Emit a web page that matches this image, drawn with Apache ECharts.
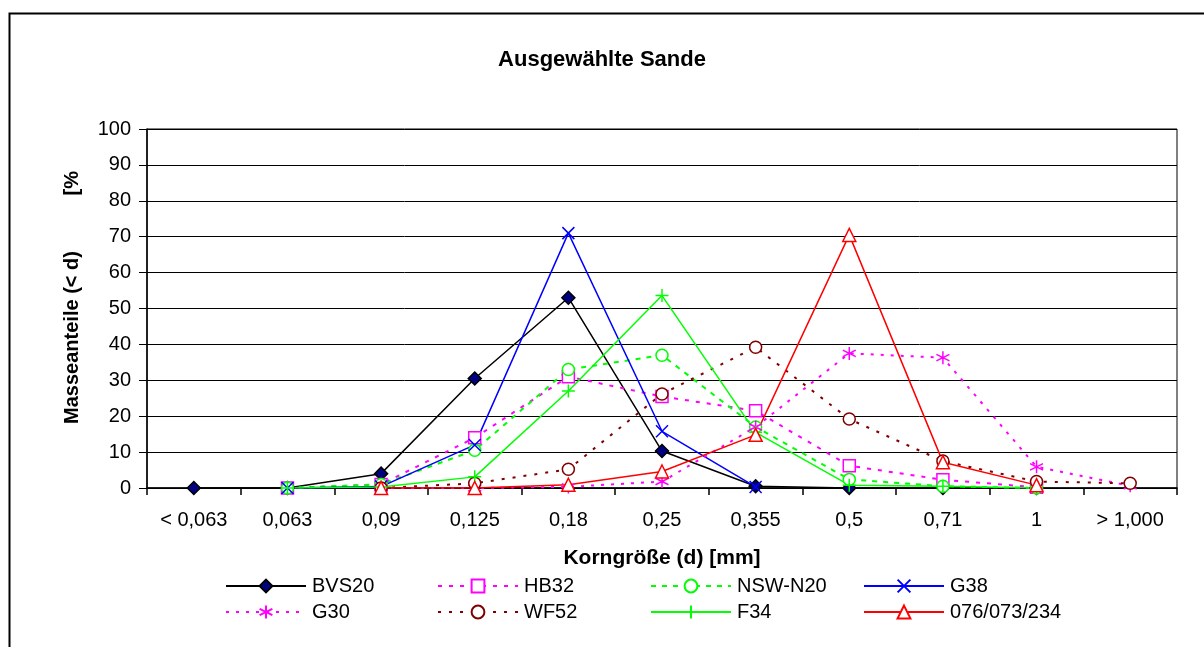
<!DOCTYPE html>
<html>
<head>
<meta charset="utf-8">
<script src="https://cdn.jsdelivr.net/npm/echarts@6/dist/echarts.min.js"></script>
<style>html,body{margin:0;padding:0;background:#fff;}#c{width:1204px;height:647px;}</style>
</head>
<body>
<div id="c"></div>
<script>
var categories = ['< 0,063','0,063','0,09','0,125','0,18','0,25','0,355','0,5','0,71','1','> 1,000'];
var yTicks = [0,10,20,30,40,50,60,70,80,90,100];
var BVS20 = [0, 0, 4, 30.5, 53, 10.3, 0.5, 0, 0, 0, null];
var HB32 = [null, 0, 1, 14, 31, 25.5, 21.5, 6.2, 2.3, 0.2, null];
var NSW_N20 = [null, 0, 1, 10.5, 33, 37, 17, 2.4, 0.5, 0, null];
var G38 = [null, 0, 0.4, 12, 71, 15.8, 0.3, null, null, null, null];
var G30 = [null, null, 0, 0, 0.3, 1.8, 17, 37.5, 36.3, 5.9, 0.6];
var WF52 = [null, null, 0, 1.3, 5.2, 26.2, 39.2, 19.2, 7.5, 1.8, 1.3];
var F34 = [null, 0, 0.3, 3.1, 27, 53.6, 15.5, 0.8, 0.5, 0, null];
var S076 = [null, null, 0, 0, 0.9, 4.6, 14.8, 70.5, 7.2, 0.8, null];

var FONT = 'Liberation Sans';
var SYM_X = 'path://M0,0L10,10M10,0L0,10';
var SYM_AST = 'path://M5,0L5,10M0,2.5L10,7.5M10,2.5L0,7.5';
var SYM_PLUS = 'path://M5,0L5,10M0,5L10,5';

function mk(name, data, color, lineType, width, symbol, size, fill, border) {
  return {
    name: name, type: 'line', data: data, connectNulls: false,
    symbol: symbol, symbolSize: size, symbolKeepAspect: true,
    lineStyle: {color: color, width: width, type: lineType},
    itemStyle: {color: fill, borderColor: border || color, borderWidth: 1.5},
    emphasis: {disabled: true}, animation: false
  };
}

var series = [
  mk('BVS20', BVS20, '#000000', 'solid', 1.5, 'diamond', 13, '#000080', '#000000'),
  mk('HB32', HB32, '#FF00FF', [4,7], 2, 'rect', 12, '#ffffff', '#FF00FF'),
  mk('NSW-N20', NSW_N20, '#00FF00', [5,6], 2, 'circle', 12, '#ffffff', '#00FF00'),
  mk('G38', G38, '#0000FF', 'solid', 1.5, SYM_X, 12, '#0000FF', '#0000FF'),
  mk('G30', G30, '#FF00FF', [3,7], 2, SYM_AST, 13, '#FF00FF', '#FF00FF'),
  mk('WF52', WF52, '#800000', [3,8], 2, 'circle', 12, '#ffffff', '#800000'),
  mk('F34', F34, '#00FF00', 'solid', 1.5, SYM_PLUS, 13, '#00FF00', '#00FF00'),
  mk('076/073/234', S076, '#FF0000', 'solid', 1.5, 'triangle', 13, '#ffffff', '#FF0000')
];

function leg(left, names) {
  return {
    orient: 'vertical', left: left, top: 576, padding: 0, itemWidth: 80, itemHeight: 16, itemGap: 6,
    data: names, selectedMode: false,
    textStyle: {fontFamily: FONT, fontSize: 20, color: '#000', padding: [0,0,0,1]}
  };
}

var chart = echarts.init(document.getElementById('c'), null, {renderer: 'canvas'});
chart.setOption({
  backgroundColor: '#ffffff',
  animation: false,
  title: {
    text: 'Ausgewählte Sande', left: 'center', top: 44,
    textStyle: {fontFamily: FONT, fontSize: 22, fontWeight: 'bold', color: '#000'}
  },
  legend: [
    leg(225, ['BVS20', 'G30']),
    leg(437, ['HB32', 'WF52']),
    leg(650, ['NSW-N20', 'F34']),
    leg(863, ['G38', '076/073/234'])
  ],
  grid: {left: 147, right: 27, top: 129, bottom: 159, show: true, borderColor: '#000', borderWidth: 1, backgroundColor: '#fff'},
  xAxis: {
    type: 'category', data: categories, boundaryGap: true,
    name: 'Korngröße (d) [mm]', nameLocation: 'middle', nameGap: 60,
    nameTextStyle: {fontFamily: FONT, fontSize: 21, fontWeight: 'bold', color: '#000'},
    axisLine: {lineStyle: {color: '#000', width: 1.5}},
    axisTick: {show: true, length: 7, inside: false, lineStyle: {color: '#000', width: 1.5}},
    axisLabel: {fontFamily: FONT, fontSize: 20, color: '#000', margin: 22, interval: 0}
  },
  yAxis: {
    type: 'value', min: yTicks[0], max: yTicks[yTicks.length-1], interval: 10,
    name: 'Masseanteile (< d)          [%', nameLocation: 'middle', nameGap: 65,
    nameTextStyle: {fontFamily: FONT, fontSize: 20, fontWeight: 'bold', color: '#000', padding: [0, 0, 0, 22]},
    axisLine: {show: true, lineStyle: {color: '#000', width: 1.5}},
    axisTick: {show: true, length: 8, lineStyle: {color: '#000', width: 1}},
    axisLabel: {fontFamily: FONT, fontSize: 20, color: '#000', margin: 16},
    splitLine: {show: true, lineStyle: {color: '#000', width: 1}}
  },
  graphic: [{
    type: 'rect', left: 7, top: 11, silent: true,
    shape: {x: 0, y: 0, width: 1210, height: 700},
    style: {fill: 'none', stroke: '#000', lineWidth: 2}
  }],
  series: series
});
</script>
</body>
</html>
